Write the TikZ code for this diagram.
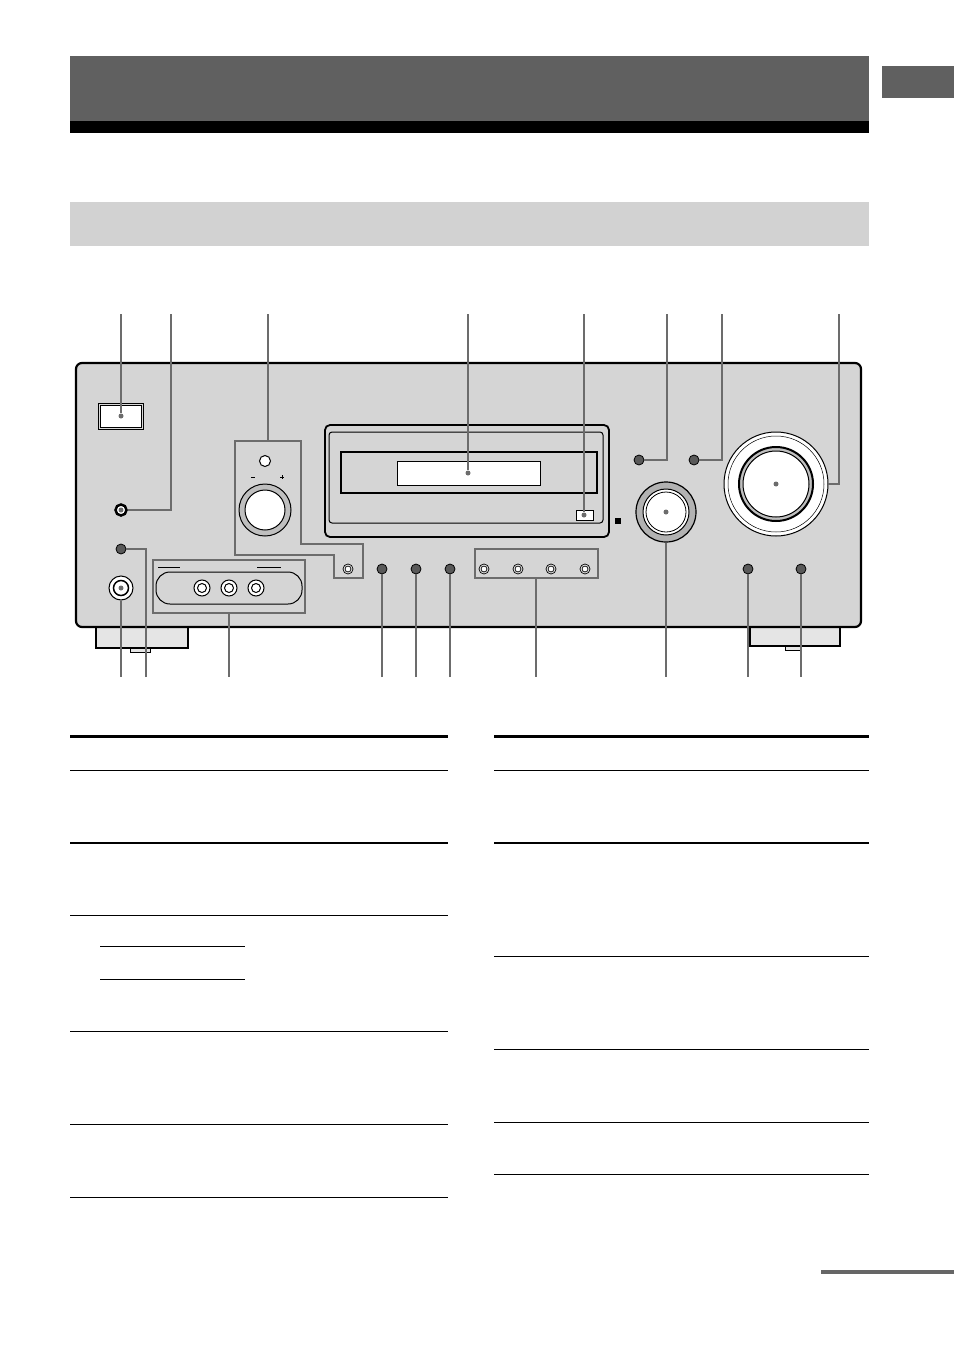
\documentclass[tikz,border=0pt]{standalone}
\begin{document}
\begin{tikzpicture}[x=1pt,y=-1pt,
  lead/.style={draw=gray!85!black,line width=2pt},
  dotc/.style={circle,fill=gray!85!black,inner sep=0pt,minimum size=5pt},
  darkbtn/.style={circle,draw=black,fill=gray!70!black,line width=0.8pt,inner sep=0pt,minimum size=10pt},
  smallbtn/.style={circle,draw=black,fill=white,line width=0.8pt,double=gray!30,double distance=1pt,inner sep=0pt,minimum size=8pt},
  rule/.style={line width=0.8pt},
  boxl/.style={draw=gray!85!black,line width=2pt}]
\useasboundingbox (0,0) rectangle (954,1351);
\fill[white] (0,0) rectangle (954,1351);
% header
\fill[gray!75!black] (70,56) rectangle (869,121);
\fill[black] (70,121) rectangle (869,133);
\fill[gray!75!black] (882,66) rectangle (954,98);
\fill[gray!35] (70,202) rectangle (869,246);
% feet
\draw[line width=1.5pt,fill=gray!20] (96,627) rectangle (188,648);
\draw[line width=1pt,fill=gray!20] (130,648) rectangle (150,652);
\draw[line width=1.5pt,fill=gray!20] (750,627) rectangle (840,646);
\draw[line width=1pt,fill=gray!20] (785,646) rectangle (800,650);
% panel
\draw[line width=2.2pt,fill=gray!33,rounded corners=6pt] (76,363) rectangle (861,627);
% power
\draw[line width=1pt,fill=white,double=gray!30,double distance=1pt] (99,404) rectangle (142,428);
\node[dotc] (pw) at (121,416) {};
\coordinate (t1) at (121,314);
\draw[lead] (t1) -- (pw);
% button 2
\node[circle,draw=black,line width=2.5pt,fill=white,inner sep=0pt,minimum size=11pt] (b2) at (121,510) {};
\node[dotc] at (b2) {};
\coordinate (t2) at (171,314);
\draw[lead] (t2) -- (171,510) -- (b2);
% volume group
\draw[boxl] (235,441) -- (301,441) -- (301,544) -- (363,544) -- (363,578) -- (334,578) -- (334,555) -- (235,555) -- cycle;
\coordinate (t3) at (268,314);
\draw[lead] (t3) -- (268,441);
\node[circle,draw=black,fill=white,line width=1pt,inner sep=0pt,minimum size=11pt] (sm) at (265,461) {};
\draw[line width=0.8pt] (251,477) -- (255,477); \draw[line width=0.6pt] (282,475)--(282,479) (280,477)--(284,477);
\node[circle,draw=black,line width=1pt,fill=gray!50,inner sep=0pt,minimum size=52pt] (vk) at (265,510) {};
\node[circle,draw=black,line width=1pt,fill=white,inner sep=0pt,minimum size=40pt] at (vk) {};
\node[smallbtn] (b3s) at (348,569) {};
% display
\draw[line width=1.8pt,fill=gray!33,rounded corners=5pt] (325,425) rectangle (609,537);
\draw[line width=1pt,rounded corners=3pt] (329,432) rectangle (603,523);
\draw[line width=1.3pt,fill=gray!33] (341,452) rectangle (597,493);
\draw[line width=0.8pt,fill=white] (397,461) rectangle (540,485);
\node[dotc] (dp) at (468,473) {};
\coordinate (t4) at (468,314);
\draw[lead] (t4) -- (dp);
\draw[line width=0.8pt,fill=white] (576,510) rectangle (593,520);
\node[dotc] (ir) at (584,515) {};
\coordinate (t5) at (584,314);
\draw[lead] (t5) -- (ir);
\fill[black] (615,518) rectangle (621,524);
% dark buttons
\node[darkbtn] (d1) at (382,569) {};
\node[darkbtn] (d2) at (416,569) {};
\node[darkbtn] (d3) at (450,569) {};
\foreach \n/\x in {d1/382,d2/416,d3/450}{\coordinate (bb\n) at (\x,677); \draw[lead] (bb\n) -- (\n);}
% four-button box
\draw[boxl] (475,549) rectangle (598,578);
\foreach \x in {484,518,551,585}{\node[smallbtn] at (\x,569) {};}
\coordinate (b4) at (536,677);
\draw[lead] (536,578) -- (b4);
% jacks box
\draw[boxl] (153,560) rectangle (305,613);
\draw[line width=1pt,rounded corners=14pt] (156,572) rectangle (302,604);
\draw[line width=0.8pt] (158,567) -- (180,567) (257,567) -- (281,567);
\foreach \x in {202,229,256}{\node[circle,draw=black,line width=1pt,fill=white,inner sep=0pt,minimum size=16pt] at (\x,588) {}; \node[circle,draw=black,line width=1pt,inner sep=0pt,minimum size=9pt] at (\x,588) {};}
\coordinate (b5) at (229,677);
\draw[lead] (229,613) -- (b5);
% left bottom
\node[darkbtn] (lb) at (121,549) {};
\coordinate (b6) at (146,677);
\draw[lead] (b6) -- (146,549) -- (lb);
\node[circle,draw=black,line width=1pt,fill=white,inner sep=0pt,minimum size=24pt] (hp) at (121,588) {};
\node[circle,draw=black,line width=1.5pt,inner sep=0pt,minimum size=15pt] at (hp) {};
\node[dotc] at (hp) {};
\coordinate (b7) at (121,677);
\draw[lead] (hp) -- (b7);
% right buttons
\node[darkbtn] (r1) at (639,460) {};
\node[darkbtn] (r2) at (694,460) {};
\coordinate (t6) at (667,314); \coordinate (t7) at (722,314);
\draw[lead] (t6) -- (667,460) -- (r1);
\draw[lead] (t7) -- (722,460) -- (r2);
% knob
\node[circle,draw=black,line width=1.2pt,fill=gray!60,inner sep=0pt,minimum size=60pt] (kn) at (666,512) {};
\node[circle,draw=black,line width=1pt,fill=white,inner sep=0pt,minimum size=46pt] at (kn) {};
\node[circle,draw=black,line width=0.8pt,inner sep=0pt,minimum size=40pt] at (kn) {};
\node[dotc] at (kn) {};
\coordinate (b8) at (666,677);
\draw[lead] (kn) -- (b8);
% big knob
\node[circle,draw=black,line width=1pt,fill=white,inner sep=0pt,minimum size=104pt] (bk) at (776,484) {};
\node[circle,draw=black,line width=0.5pt,inner sep=0pt,minimum size=96pt] at (bk) {};
\node[circle,draw=black,line width=2pt,fill=gray!50,inner sep=0pt,minimum size=74pt] at (bk) {};
\node[circle,draw=black,line width=1pt,fill=white,inner sep=0pt,minimum size=66pt] at (bk) {};
\node[dotc] at (bk) {};
\coordinate (t8) at (839,314);
\draw[lead] (t8) -- (839,484) -- (bk);
\node[darkbtn] (r3) at (748,569) {};
\node[darkbtn] (r4) at (801,569) {};
\coordinate (b9) at (748,677); \coordinate (b10) at (801,677);
\draw[lead] (r3) -- (b9); \draw[lead] (r4) -- (b10);
% tables
\draw[line width=3pt] (70,736) -- (448,736);
\draw[line width=3pt] (494,736) -- (869,736);
\foreach \y in {770,915,1031,1124,1197}{\draw[rule] (70,\y) -- (448,\y);}
\draw[line width=1.4pt] (70,843) -- (448,843);
\draw[rule] (100,946) -- (245,946) (100,979) -- (245,979);
\foreach \y in {770,956,1049,1122,1174}{\draw[rule] (494,\y) -- (869,\y);}
\draw[line width=1.4pt] (494,843) -- (869,843);
\draw[line width=4pt,gray!80!black] (821,1272) -- (954,1272);
\end{tikzpicture}
\end{document}
